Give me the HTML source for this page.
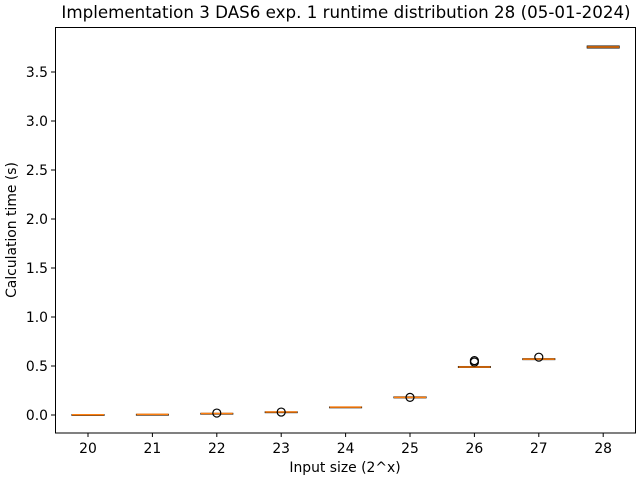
<!DOCTYPE html>
<html><head><meta charset="utf-8"><style>body{margin:0;background:#fff}svg{font-family:"DejaVu Sans","Liberation Sans",sans-serif}</style></head>
<body>
<svg id="c" width="640" height="480" xmlns="http://www.w3.org/2000/svg">
<rect x="0" y="0" width="640" height="480" fill="#fff"/>
<text x="346" y="18" font-size="16.7" text-anchor="middle">Implementation 3 DAS6 exp. 1 runtime distribution 28 (05-01-2024)</text>
<text x="345" y="472" font-size="13.9" text-anchor="middle">Input size (2^x)</text>
<text transform="translate(16,230) rotate(-90)" font-size="13.9" text-anchor="middle">Calculation time (s)</text>
<g id="marks"></g>
<rect x="55.5" y="27.5" width="580" height="405.5" fill="none" stroke="#000" stroke-width="1"/>
</svg>
<script>
const categories=[20,21,22,23,24,25,26,27,28];
const q1=[0.002,0.004,0.013,0.027,0.077,0.175,0.485,0.565,3.745];
const medians=[0.003,0.006,0.015,0.03,0.08,0.18,0.49,0.57,3.755];
const q3=[0.004,0.007,0.017,0.032,0.082,0.185,0.495,0.575,3.765];
const outliers=[[],[],[0.02],[0.03],[],[0.18],[0.54,0.555],[0.59],[]];
const yTicks=[0,0.5,1,1.5,2,2.5,3,3.5];
const NS="http://www.w3.org/2000/svg";
const g=document.getElementById('marks'), svg=document.getElementById('c');
function y(v){return 415-v*98;}
function x(i){return 88+i*64.4;}
function mk(t,a,p){const e=document.createElementNS(NS,t);for(const k in a)e.setAttribute(k,a[k]);(p||g).appendChild(e);return e;}
yTicks.forEach(v=>{
 const t=mk('line',{x1:51,x2:55,y1:y(v),y2:y(v),stroke:'#000'});
 
 
 const l=mk('text',{x:48,y:y(v)+5,'font-size':13.9,'text-anchor':'end'});l.textContent=v.toFixed(1);
 
 
});
categories.forEach((c,i)=>{
 const cx=x(i);
 const t=mk('line',{x1:cx,x2:cx,y1:433,y2:437,stroke:'#000'});
 
 
 const l=mk('text',{x:cx,y:453,'font-size':13.9,'text-anchor':'middle'});l.textContent=c;
 
 
 const b=mk('rect',{x:cx-16,y:y(q3[i]),width:32,height:Math.max(y(q1[i])-y(q3[i]),0.8),fill:'none',stroke:'#000','stroke-width':1});
 
 
 const m=mk('line',{x1:cx-16,x2:cx+16,y1:y(medians[i]),y2:y(medians[i]),stroke:'#ff7f0e','stroke-width':1.5});
 
 
 outliers[i].forEach(o=>{
  const p=mk('circle',{cx:cx,cy:y(o),r:4,fill:'none',stroke:'#000','stroke-width':1.2});
  
  
 });
});
</script>
</body></html>
